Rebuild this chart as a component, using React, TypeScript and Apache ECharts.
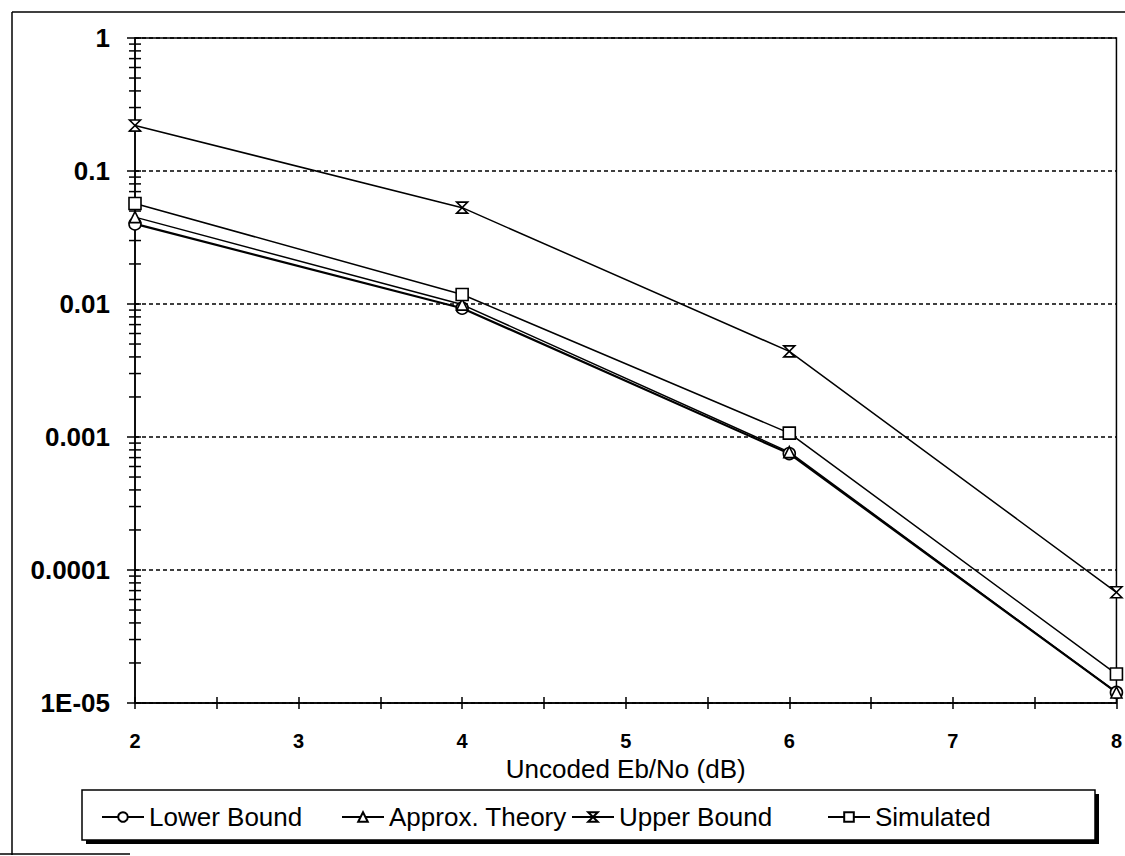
import React, { useEffect, useRef } from "react";
import * as echarts from "echarts";

const xValues = [2, 4, 6, 8];
const lowerBound = [0.040, 0.0093, 0.00075, 1.2e-5];
const approxTheory = [0.045, 0.0099, 0.00077, 1.2e-5];
const upperBound = [0.22, 0.053, 0.0044, 6.8e-5];
const simulated = [0.057, 0.0118, 0.00107, 1.65e-5];
const seriesNames = ["Lower Bound", "Approx. Theory", "Upper Bound", "Simulated"];
const yTickLabels: Record<string, string> = {
  "1": "1",
  "0.1": "0.1",
  "0.01": "0.01",
  "0.001": "0.001",
  "0.0001": "0.0001",
  "0.00001": "1E-05",
};
const decades = [1e-5, 1e-4, 1e-3, 1e-2, 1e-1];
const minorMultipliers = [2, 3, 4, 5, 6, 7, 8, 9];

const FONT = "'Liberation Sans', Arial, sans-serif";
const hourglass = "path://M0,0 L10,0 L0,10 L10,10 Z";

function fmtY(v: number): string {
  const e = Math.round(Math.log10(v));
  const key = e === -5 ? "0.00001" : String(Math.pow(10, e));
  return yTickLabels[key] ?? "";
}

export default function App() {
  const ref = useRef<HTMLDivElement>(null);
  useEffect(() => {
    if (!ref.current) return;
    const chart = echarts.init(ref.current, null, { renderer: "svg" });
    const minorTicks: number[][] = [];
    decades.forEach((d) => minorMultipliers.forEach((m) => minorTicks.push([2, d * m])));

    const mk = (name: string, vals: number[], symbol: string, size: number, width: number) => ({
      name,
      type: "line",
      data: xValues.map((x, i) => [x, vals[i]]),
      symbol,
      symbolSize: size,
      showAllSymbol: true,
      lineStyle: { color: "#000", width },
      itemStyle: { color: "#fff", borderColor: "#000", borderWidth: 1.6 },
      z: 5,
    });

    const legendLefts = [96, 336, 566, 822];

    chart.setOption({
      animation: false,
      backgroundColor: "#fff",
      textStyle: { fontFamily: FONT },
      grid: {
        left: 135,
        top: 38,
        right: 7,
        bottom: 153,
        show: true,
        borderColor: "#000",
        borderWidth: 1.5,
        backgroundColor: "transparent",
      },
      xAxis: [
        {
          type: "value",
          min: 2,
          max: 8,
          interval: 1,
          axisLine: { lineStyle: { color: "#000", width: 1.5 } },
          axisTick: { show: true, length: 6, lineStyle: { color: "#000", width: 1.5 } },
          minorTick: { show: true, splitNumber: 2, length: 6, lineStyle: { color: "#000", width: 1.5 } },
          splitLine: { show: false },
          axisLabel: { color: "#000", fontSize: 20, fontWeight: "bold", margin: 28, fontFamily: FONT },
          name: "Uncoded Eb/No (dB)",
          nameLocation: "middle",
          nameGap: 45,
          nameTextStyle: { color: "#000", fontSize: 26, fontFamily: FONT },
        },
        {
          type: "value",
          min: 2,
          max: 8,
          interval: 1,
          position: "bottom",
          axisLine: { show: false },
          axisTick: { show: true, inside: true, length: 6, lineStyle: { color: "#000", width: 1.5 } },
          minorTick: { show: true, splitNumber: 2, length: 6, lineStyle: { color: "#000", width: 1.5 } },
          axisLabel: { show: false },
          splitLine: { show: false },
        },
      ],
      yAxis: [
        {
          type: "log",
          logBase: 10,
          min: 1e-5,
          max: 1,
          axisLine: { show: true, lineStyle: { color: "#000", width: 1.5 } },
          axisTick: { show: true, length: 8, lineStyle: { color: "#000", width: 1.5 } },
          splitLine: { show: true, lineStyle: { color: "#000", width: 1.5, type: [4, 3] } },
          axisLabel: {
            color: "#000",
            fontSize: 26,
            fontWeight: "bold",
            margin: 25,
            fontFamily: FONT,
            formatter: (v: number) => fmtY(v),
          },
        },
        {
          type: "log",
          logBase: 10,
          min: 1e-5,
          max: 1,
          position: "left",
          axisLine: { show: false },
          axisTick: { show: true, inside: true, length: 6, lineStyle: { color: "#000", width: 1.5 } },
          splitLine: { show: false },
          axisLabel: { show: false },
        },
      ],
      legend: seriesNames.map((n, i) => ({
        data: [n],
        left: legendLefts[i],
        top: 799,
        itemWidth: 42,
        itemHeight: 12,
        itemGap: 0,
        textStyle: { color: "#000", fontSize: 26, fontFamily: FONT },
        selectedMode: false,
        z: 20,
      })),
      graphic: [
        { type: "rect", shape: { x: 86, y: 794, width: 1013, height: 50 }, style: { fill: "#000" }, z: 10 },
        {
          type: "rect",
          shape: { x: 82, y: 790, width: 1013, height: 50 },
          style: { fill: "#fff", stroke: "#000", lineWidth: 1.5 },
          z: 11,
        },
        { type: "line", shape: { x1: 12, y1: 12, x2: 1125, y2: 12 }, style: { stroke: "#000", lineWidth: 1.5 } },
        { type: "line", shape: { x1: 12, y1: 12, x2: 12, y2: 855 }, style: { stroke: "#000", lineWidth: 1.5 } },
        { type: "line", shape: { x1: 0, y1: 854, x2: 130, y2: 854 }, style: { stroke: "#000", lineWidth: 1.5 } },
      ],
      series: [
        mk(seriesNames[0], lowerBound, "circle", 12, 2.2),
        mk(seriesNames[1], approxTheory, "triangle", 11, 1.5),
        mk(seriesNames[2], upperBound, hourglass, 11, 1.5),
        mk(seriesNames[3], simulated, "rect", 12, 1.5),
        {
          type: "custom",
          name: "minorTicks",
          data: minorTicks,
          clip: false,
          silent: true,
          z: 4,
          renderItem: (_params: any, api: any) => {
            const p = api.coord([api.value(0), api.value(1)]);
            return {
              type: "line",
              shape: { x1: p[0] - 6, y1: p[1], x2: p[0] + 6, y2: p[1] },
              style: { stroke: "#000", lineWidth: 1.5 },
            };
          },
        },
      ],
    });
    return () => chart.dispose();
  }, []);
  return (
    <div
      ref={ref}
      style={{ position: "fixed", left: 0, top: 0, width: 1125, height: 856, background: "#fff" }}
    />
  );
}
